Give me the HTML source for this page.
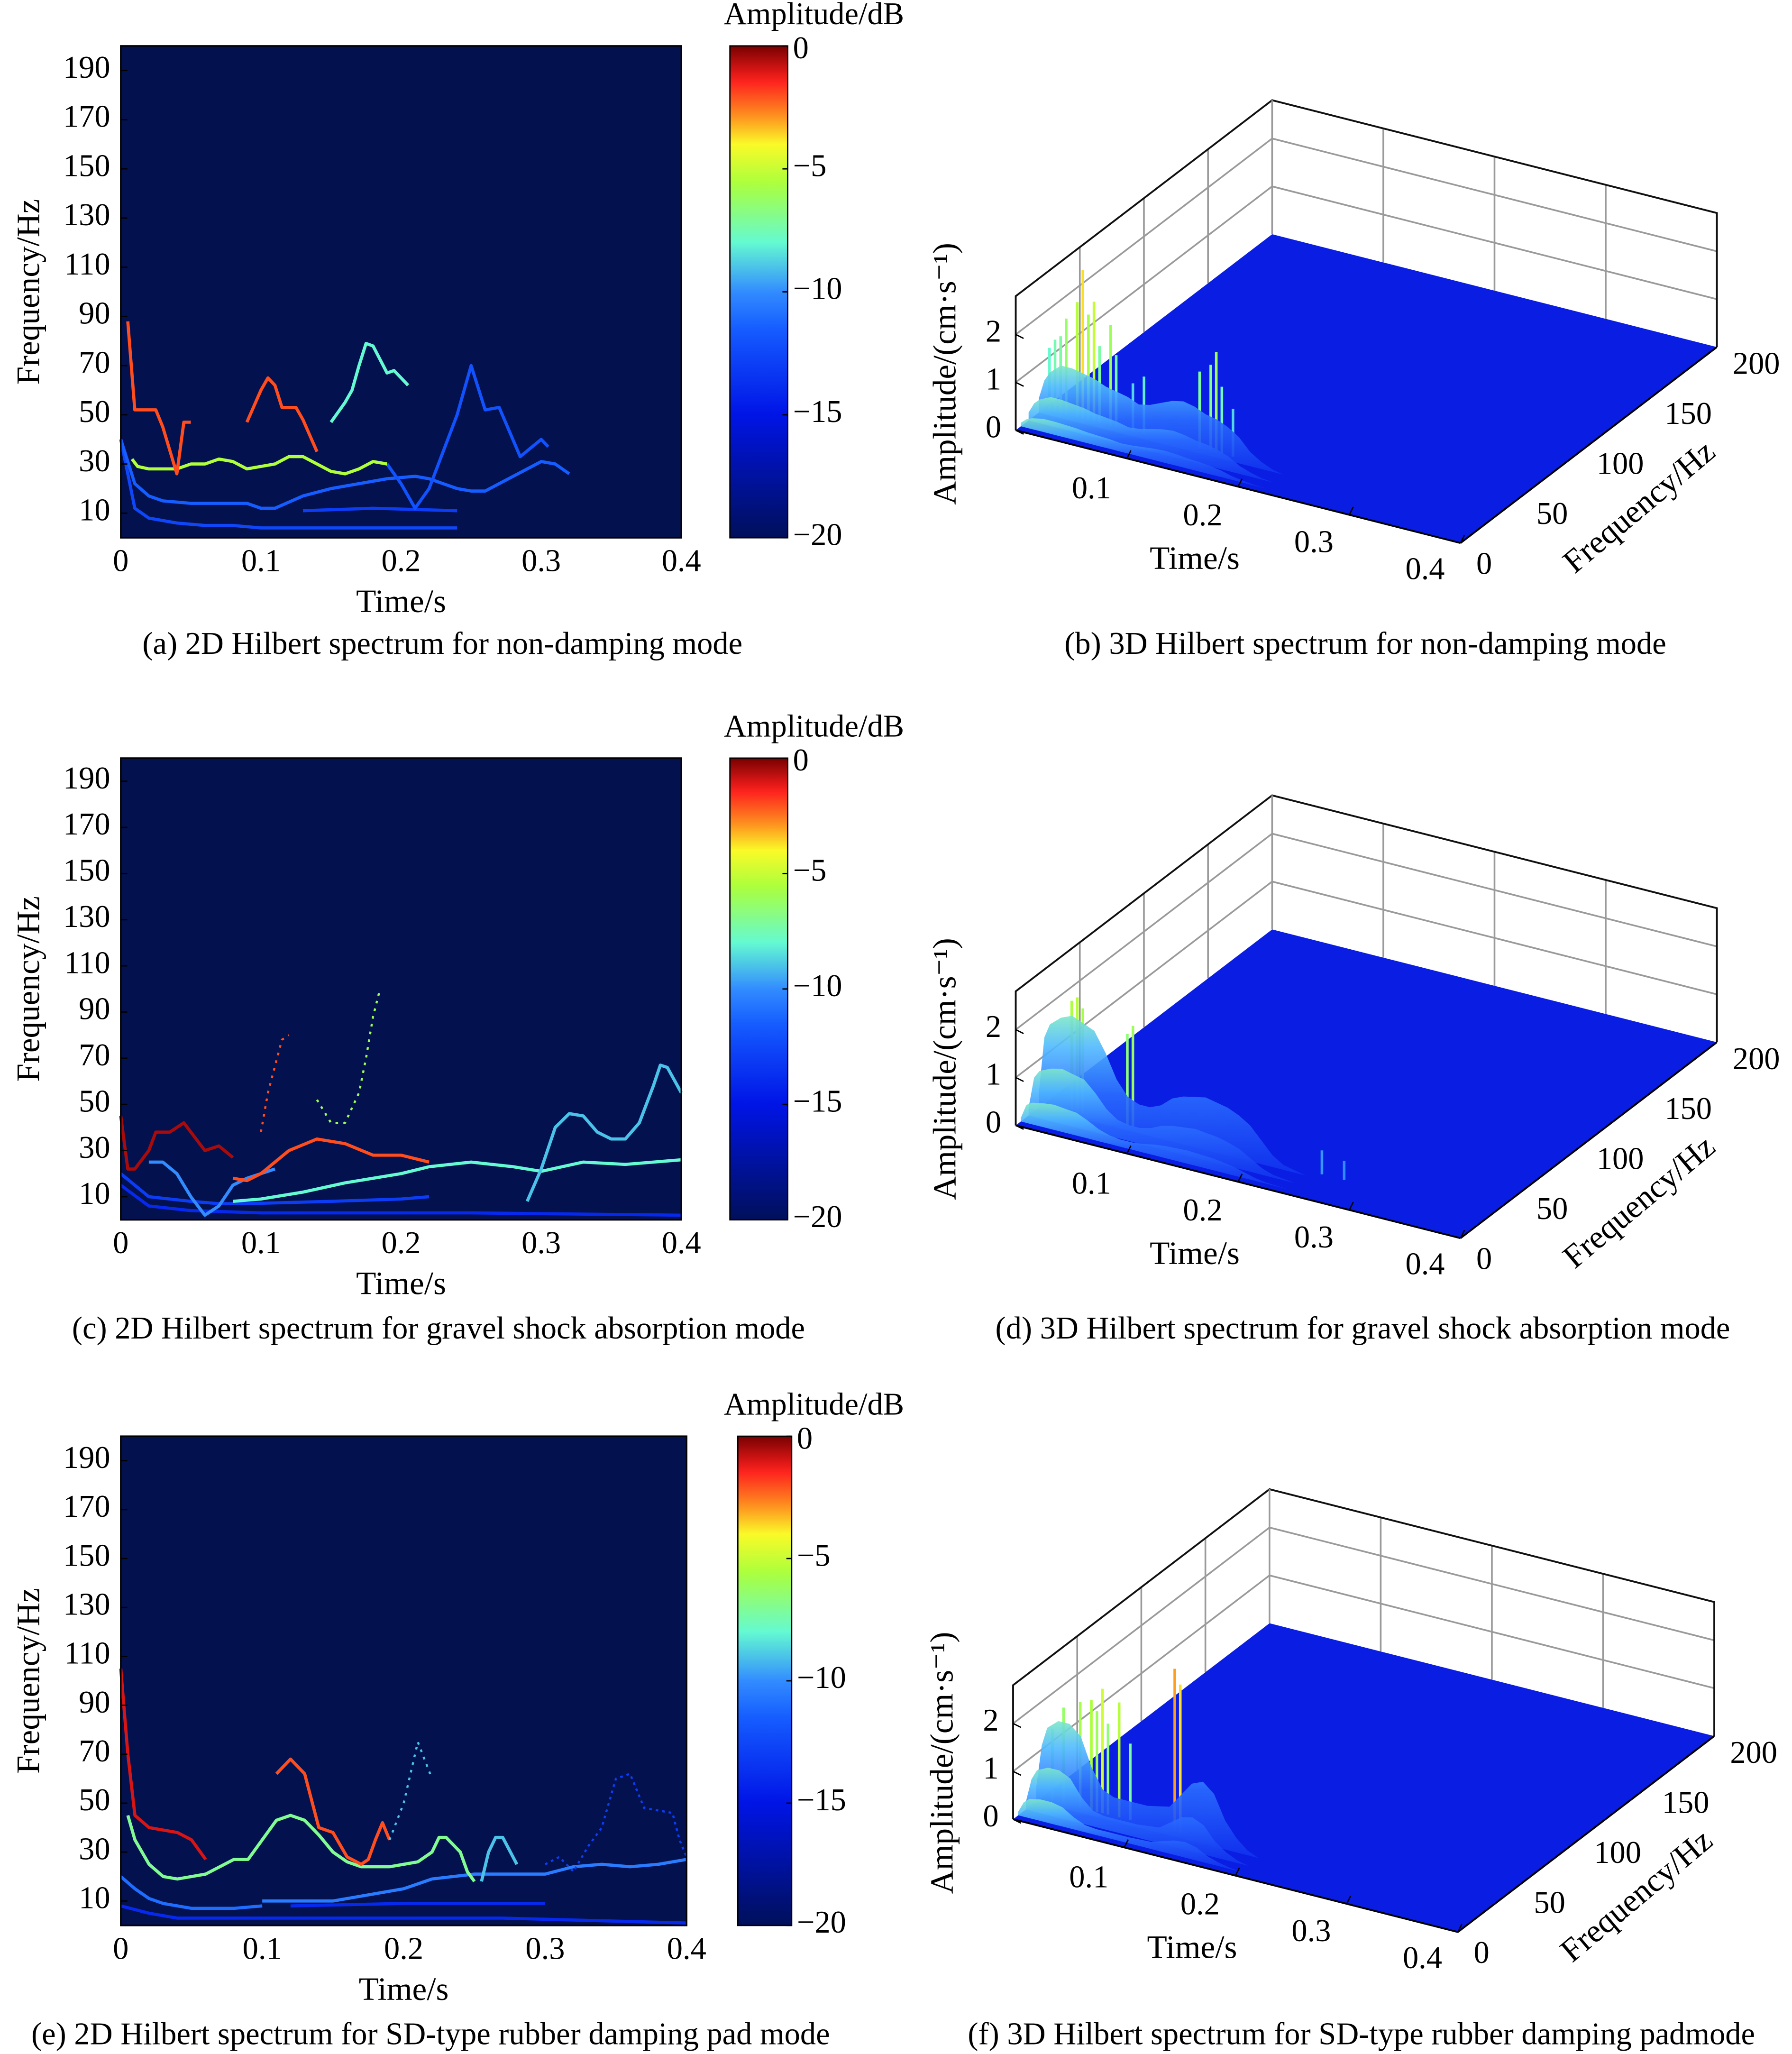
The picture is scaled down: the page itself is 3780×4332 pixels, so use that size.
<!DOCTYPE html>
<html><head><meta charset="utf-8">
<style>
html,body{margin:0;padding:0;background:#fff;}
svg{display:block;font-family:"Liberation Serif",serif;}
</style></head>
<body>
<svg id="fig" width="3780" height="4332" viewBox="0 0 1365 1566" preserveAspectRatio="none" xmlns="http://www.w3.org/2000/svg">
<rect width="1365" height="1566" fill="#fff"/>
</svg>
<script>
// ---------- axis data ----------
const freqTicks=[10,30,50,70,90,110,130,150,170,190];
const timeTicks=[0,0.1,0.2,0.3,0.4];
const cbTicks=[0,-5,-10,-15,-20];
const t3Ticks=[0.1,0.2,0.3,0.4];
const f3Ticks=[0,50,100,150,200];
const a3Ticks=[0,1,2];
// ---------- panel a ridges (time s, freq Hz), amplitude dB ----------
const aT1=[0.008,0.012,0.02,0.03,0.04,0.05,0.06,0.07,0.08,0.09,0.1,0.11,0.12,0.13,0.14,0.15,0.16,0.17,0.18,0.19];
const aF1=[32,29,28,28,28,30,30,32,31,28,29,30,33,33,30,27,26,28,31,30];
const aA1=-5.5;
const aT2=[0,0.01,0.02,0.03,0.05,0.08,0.09,0.1,0.11,0.13,0.15,0.17,0.19,0.21,0.22,0.24,0.25,0.26,0.28,0.3,0.31,0.32];
const aF2=[40,22,17,15,14,14,14,12,12,17,20,22,24,25,24,20,19,19,25,31,30,26];
const aA2=-11.5;
const aT3=[0,0.01,0.02,0.04,0.06,0.08,0.1,0.15,0.2,0.24];
const aF3=[40,12,8,6,5,5,4,4,4,4];
const aA3=-12.5;
const aT4=[0.005,0.01,0.02,0.025,0.03,0.04,0.045,0.05];
const aF4=[88,52,52,52,45,26,47,47];
const aA4=-2;
const aT5=[0.09,0.1,0.105,0.11,0.115,0.125,0.13,0.14];
const aF5=[47,60,65,62,53,53,48,35];
const aA5=-2;
const aT6=[0.15,0.16,0.165,0.17,0.175,0.18,0.19,0.195,0.205];
const aF6=[47,55,60,70,79,78,67,68,62];
const aA6=-8;
const aT7=[0.19,0.2,0.21,0.22,0.24,0.25,0.26,0.27,0.285,0.3,0.305];
const aF7=[30,22,12,20,50,70,52,53,33,40,37];
const aA7=-12;
const aT8=[0.13,0.18,0.24];
const aF8=[11,12,11];
const aA8=-13;
// ---------- panel c ridges ----------
const cT1=[0,0.005,0.01,0.02,0.025,0.035,0.045,0.05,0.06,0.07,0.08];
const cF1=[45,22,22,30,38,38,42,38,30,32,27];
const cA1=-0.5;
const cT2=[0.08,0.09,0.1,0.11,0.12,0.14,0.16,0.18,0.2,0.22];
const cF2=[18,17,20,25,30,35,33,28,28,25];
const cA2=-2;
const cT3=[0.08,0.1,0.13,0.16,0.2,0.22,0.25,0.28,0.3,0.33,0.36,0.4];
const cF3=[8,9,12,16,20,23,25,23,21,25,24,26];
const cA3=-8;
const cT4=[0.02,0.03,0.04,0.05,0.06,0.07,0.08,0.09,0.11];
const cF4=[25,25,20,10,2,6,15,18,22];
const cA4=-10;
const cT5=[0.29,0.3,0.31,0.32,0.33,0.34,0.35,0.36,0.37,0.38,0.385,0.39,0.4];
const cF5=[8,22,40,46,45,38,35,35,42,58,67,66,55];
const cA5=-9;
const cT6=[0,0.02,0.05,0.07,0.09,0.15,0.2,0.22];
const cF6=[20,10,8,7,7,8,9,10];
const cA6=-13;
const cT7=[0,0.02,0.05,0.1,0.25,0.4];
const cF7=[15,6,4,3,3,2];
const cA7=-14;
const cT8=[0.1,0.105,0.115,0.12];
const cF8=[38,55,78,80];
const cA8=-2;
const cT9=[0.14,0.15,0.16,0.17,0.175,0.18,0.185];
const cF9=[52,42,42,55,70,88,100];
const cA9=-6;
// ---------- panel e ridges ----------
const eT1=[0.005,0.01,0.02,0.03,0.04,0.05,0.06,0.07,0.08,0.09,0.1,0.11,0.12,0.13,0.14,0.15,0.16,0.17,0.19,0.2,0.21,0.22,0.225,0.23,0.24,0.245,0.25];
const eF1=[45,35,25,20,19,20,21,24,27,27,35,43,45,43,37,30,26,24,24,25,26,30,36,36,30,22,18];
const eA1=-7;
const eT2=[0.1,0.12,0.15,0.17,0.2,0.22,0.25,0.28,0.3,0.32,0.34,0.36,0.38,0.4];
const eF2=[10,10,10,12,15,19,21,21,21,24,25,24,25,27];
const eA2=-10.5;
const eT3=[0,0.01,0.02,0.03,0.05,0.08,0.1];
const eF3=[20,15,11,9,7,7,8];
const eA3=-11;
const eT4=[0,0.02,0.04,0.1,0.27,0.4];
const eF4=[8,5,3,3,3,1];
const eA4=-14;
const eT5=[0,0.005,0.01,0.02,0.04,0.05,0.06];
const eF5=[105,70,45,40,38,35,27];
const eA5=-1;
const eT6=[0.11,0.12,0.13,0.14,0.15,0.16,0.17,0.175,0.18,0.185,0.19];
const eF6=[62,68,62,40,38,28,25,27,35,42,35];
const eA6=-2;
const eT7=[0.3,0.31,0.32,0.33,0.34,0.35,0.36,0.37,0.38,0.39,0.395,0.4];
const eF7=[25,28,22,32,40,60,62,48,47,46,35,28];
const eA7=-13;
const eT8=[0.19,0.2,0.21,0.22];
const eF8=[35,50,75,60];
const eA8=-9;
const eT9=[0.255,0.26,0.265,0.27,0.28];
const eF9=[18,30,36,36,25];
const eA9=-9;
const eT10=[0.12,0.2,0.3];
const eF10=[8,9,9];
const eA10=-14;
// ---------- 3D: surface body profile and spikes (time s, amplitude cm/s) ----------
const bBodyT=[0,0.005,0.01,0.02,0.03,0.04,0.05,0.06,0.07,0.08,0.09,0.1,0.11,0.12,0.13,0.14,0.15,0.16,0.17,0.18,0.19,0.2,0.21,0.22];
const bBodyH=[0.3,0.7,0.9,1.1,1.1,1.05,1.0,0.9,0.85,0.8,0.7,0.75,0.85,0.95,1.0,0.95,0.85,0.8,0.7,0.55,0.3,0.15,0.05,0];
const bSpikeT=[0.005,0.01,0.015,0.02,0.03,0.035,0.04,0.045,0.05,0.06,0.065,0.08,0.09,0.14,0.15,0.155,0.16,0.17];
const bSpikeH=[1.3,1.5,1.6,2.0,2.4,3.1,2.2,2.5,1.6,2.1,1.5,1.0,1.2,1.6,1.8,2.1,1.4,1.0];
const dBodyT=[0,0.005,0.01,0.02,0.03,0.04,0.05,0.06,0.07,0.08,0.09,0.1,0.11,0.12,0.13,0.14,0.15,0.16,0.17,0.18,0.19,0.2,0.21,0.22,0.24];
const dBodyH=[0.3,1.5,1.8,2.0,2.1,2.0,1.9,1.5,1.0,0.7,0.6,0.6,0.7,0.9,1.0,1.05,1.1,1.05,1.0,0.9,0.75,0.5,0.25,0.1,0];
const dSpikeT=[0.025,0.03,0.035,0.075,0.08,0.25,0.27];
const dSpikeH=[2.3,2.4,2.2,1.9,2.1,0.5,0.4];
const fBodyT=[0,0.005,0.01,0.02,0.03,0.04,0.05,0.06,0.07,0.08,0.1,0.12,0.13,0.14,0.15,0.16,0.17,0.18,0.19,0.2];
const fBodyH=[0.3,1.2,1.6,1.8,1.8,1.6,1.0,0.6,0.5,0.5,0.5,0.6,0.9,1.2,1.3,1.1,0.6,0.3,0.1,0];
const fSpikeT=[0.01,0.02,0.035,0.045,0.05,0.055,0.06,0.07,0.08,0.12,0.125];
const fSpikeH=[1.5,2.0,2.2,2.3,2.1,2.6,1.9,2.4,1.6,3.4,3.1];
// ---------- helpers ----------
const NS='http://www.w3.org/2000/svg';
const svg=document.getElementById('fig');
function mk(tag,attrs,parent){const e=document.createElementNS(NS,tag);for(const k in attrs)e.setAttribute(k,attrs[k]);(parent||svg).appendChild(e);return e;}
function txt(x,y,s,size,anchor,rot,parent){const e=mk('text',{x:0,y:0,'font-size':size,'text-anchor':anchor||'middle','dominant-baseline':'middle',fill:'#000',transform:'translate('+x+' '+y+') rotate('+(rot||0)+')'},parent);e.textContent=s;return e;}
const cmapPos=[0,0.25,0.42,0.5,0.6,0.72,0.8,0.86,0.93,1];
const cmapCol=[[0,15,90],[0,20,230],[20,90,255],[50,140,255],[100,250,210],[170,255,60],[250,250,40],[255,140,30],[255,30,30],[120,0,0]];
function cmap(v){v=Math.max(0,Math.min(1,v));for(let i=1;i<cmapPos.length;i++){if(v<=cmapPos[i]){const u=(v-cmapPos[i-1])/(cmapPos[i]-cmapPos[i-1]);const a=cmapCol[i-1],b=cmapCol[i];return 'rgb('+a.map((c,k)=>Math.round(c+(b[k]-c)*u)).join(',')+')';}}return 'rgb(120,0,0)';}
function dbCol(db){return cmap((db+20)/20);}

function panel2D(id,x0,x1,y0,y1,cbx0,cbx1,series,caption,capX,capY){
  const g=mk('g',{});
  
  
  const xs=t=>x0+t/0.4*(x1-x0);
  const ys=f=>y1-f/200*(y1-y0);
  const bg=mk('rect',{x:x0,y:y0,width:x1-x0,height:y1-y0,fill:'#03114f'},g);
  
  
  series.forEach(s=>{
    const p=mk('polyline',{points:s[0].map((t,k)=>xs(t)+','+ys(s[1][k])).join(' '),fill:'none',stroke:dbCol(s[2]),'stroke-width':s[3]?1.6:2.4,'stroke-linejoin':'round','stroke-dasharray':s[3]||'none'},g);
    
    
  });
  mk('rect',{x:x0,y:y0,width:x1-x0,height:y1-y0,fill:'none',stroke:'#000','stroke-width':1.2},g);
  freqTicks.forEach(f=>{mk('line',{x1:x0,x2:x0+5,y1:ys(f),y2:ys(f),stroke:'#000','stroke-width':1},g);const t=txt(x0-8,ys(f),String(f),24,'end',0,g);});
  timeTicks.forEach(tt=>{const t=txt(xs(tt),y1+20,String(tt),24,'middle',0,g);});
  const yt=txt(24,(y0+y1)/2,'Frequency/Hz',25,'middle',-90,g);
  const xt=txt((x0+x1)/2,y1+51,'Time/s',25,'middle',0,g);
  const defs=mk('defs',{},g);const lg=mk('linearGradient',{id:'grad'+id,x1:0,y1:1,x2:0,y2:0},defs);
  for(let i=0;i<=40;i++)mk('stop',{offset:i/40,'stop-color':cmap(i/40)},lg);
  const cb=mk('rect',{x:cbx0,y:y0,width:cbx1-cbx0,height:y1-y0,fill:'url(#grad'+id+')',stroke:'#000','stroke-width':1},g);
  
  cbTicks.forEach(v=>{const y=y0+(-v)/20*(y1-y0);mk('line',{x1:cbx1-4,x2:cbx1,y1:y,y2:y,stroke:'#000'},g);const t=txt(cbx1+4,y+(v===0?4:0),v===0?'0':'\u2212'+(-v),24,'start',0,g);});
  const ct=txt(620,y0-22,'Amplitude/dB',24,'middle',0,g);
  const cap=txt(capX,capY,caption,24,'middle',0,g);
}

function panel3D(id,dx,dy,bodyT,bodyH,spT,spH,caption,capX,capY){
  const g=mk('g',{});
  
  
  const A=[773.7+dx,328+dy],B=[1112.5+dx,414+dy],D=[969+dx,178.6+dy];
  const U=36.5;
  const P=(t,f,h)=>[A[0]+t/0.4*(B[0]-A[0])+f/200*(D[0]-A[0]), A[1]+t/0.4*(B[1]-A[1])+f/200*(D[1]-A[1])-h*U];
  const pt=p=>p[0].toFixed(1)+','+p[1].toFixed(1);
  const gc='#9a9a9a';
  const C=P(0.4,200,0);
  const topH=2.8;
  [1,2].forEach(k=>{mk('polyline',{points:[pt(P(0,0,k)),pt(P(0,200,k)),pt(P(0.4,200,k))].join(' '),fill:'none',stroke:gc,'stroke-width':1.3},g);});
  [50,100,150].forEach(f=>{const a=P(0,f,0),b=P(0,f,topH);mk('line',{x1:a[0],y1:a[1],x2:b[0],y2:b[1],stroke:gc,'stroke-width':1.3},g);});
  [0.1,0.2,0.3].forEach(t=>{const a=P(t,200,0),b=P(t,200,topH);mk('line',{x1:a[0],y1:a[1],x2:b[0],y2:b[1],stroke:gc,'stroke-width':1.3},g);});
  mk('polyline',{points:[pt(A),pt(P(0,0,topH)),pt(P(0,200,topH)),pt(P(0.4,200,topH)),pt(C)].join(' '),fill:'none',stroke:'#111','stroke-width':1.4},g);
  mk('line',{x1:D[0],y1:D[1],x2:D[0],y2:D[1]-topH*U,stroke:gc,'stroke-width':1.3},g);
  const floor=mk('polygon',{points:[pt(A),pt(B),pt(C),pt(D)].join(' '),fill:'#0a1ee3'},g);
  
  const defs=mk('defs',{},g);
  const lg=mk('linearGradient',{id:'body'+id,x1:0,y1:1,x2:0,y2:0},defs);
  mk('stop',{offset:0,'stop-color':'#1030ee'},lg);
  mk('stop',{offset:0.5,'stop-color':'#2a6cff'},lg);
  mk('stop',{offset:0.8,'stop-color':'#4fb8ff'},lg);
  mk('stop',{offset:1,'stop-color':'#7de8c8'},lg);
  spT.forEach((t,i)=>{
    const b=P(t,22,0),tp=P(t,22,spH[i]);
    const l=mk('line',{x1:b[0],y1:b[1],x2:tp[0],y2:tp[1],stroke:cmap(0.45+spH[i]/3.4*0.4),'stroke-width':2},g);
    
  });
  [[18,1],[10,0.55],[4,0.25]].forEach(sl=>{
    const top=bodyT.map((t,i)=>pt(P(t,sl[0],bodyH[i]*sl[1])));
    const bot=bodyT.slice().reverse().map(t=>pt(P(t,sl[0],0)));
    const poly=mk('polygon',{points:top.concat(bot).join(' '),fill:'url(#body'+id+')',opacity:0.9},g);
    
  });
  mk('line',{x1:A[0],y1:A[1],x2:B[0],y2:B[1],stroke:'#000','stroke-width':1.4},g);
  mk('line',{x1:B[0],y1:B[1],x2:C[0],y2:C[1],stroke:'#000','stroke-width':1.4},g);
  t3Ticks.forEach(t=>{const p=P(t,0,0);mk('line',{x1:p[0],y1:p[1],x2:p[0]+3,y2:p[1]-6,stroke:'#000'},g);const e=txt(p[0]-27,p[1]+25-(t-0.1)*10,String(t),24,'middle',0,g);});
  f3Ticks.forEach(f=>{const p=P(0.4,f,0);const e=txt(p[0]+18+f*0.06,p[1]+18-f*0.015,String(f),24,'middle',0,g);});
  a3Ticks.forEach(a=>{const p=P(0,0,a);mk('line',{x1:p[0],y1:p[1],x2:p[0]+6,y2:p[1]+3,stroke:'#000'},g);const e=txt(p[0]-17,p[1],String(a),24,'middle',0,g);});
  const tt=txt(910+dx,428+dy,'Time/s',25,'middle',0,g);
  const ft=txt(1250+dx,388+dy,'Frequency/Hz',25,'middle',-40,g);
  const at=txt(722+dx,285+dy,'Amplitude/(cm\u00b7s\u207b\u00b9)',25,'middle',-90,g);
  const cap=txt(capX,capY,caption,24,'middle',0,g);
}

panel2D('a',92,519,35,410,556,600,[
 [aT3,aF3,aA3],[aT8,aF8,aA8],[aT2,aF2,aA2],[aT7,aF7,aA7],[aT1,aF1,aA1],[aT4,aF4,aA4],[aT5,aF5,aA5],[aT6,aF6,aA6]
],'(a) 2D Hilbert spectrum for non-damping mode',337,493);
panel2D('c',92,519,578,930,556,600,[
 [cT7,cF7,cA7],[cT6,cF6,cA6],[cT3,cF3,cA3],[cT4,cF4,cA4],[cT1,cF1,cA1],[cT2,cF2,cA2],[cT5,cF5,cA5],[cT8,cF8,cA8,'2 4'],[cT9,cF9,cA9,'2 4']
],'(c) 2D Hilbert spectrum for gravel shock absorption mode',334,1015);
panel2D('e',92,523,1095,1468,562,603,[
 [eT4,eF4,eA4],[eT10,eF10,eA10],[eT3,eF3,eA3],[eT2,eF2,eA2],[eT1,eF1,eA1],[eT9,eF9,eA9],[eT5,eF5,eA5],[eT6,eF6,eA6],[eT7,eF7,eA7,'2 3'],[eT8,eF8,eA8,'2 4']
],'(e) 2D Hilbert spectrum for SD-type rubber damping pad mode',328,1553);
panel3D('b',0,0,bBodyT,bBodyH,bSpikeT,bSpikeH,'(b) 3D Hilbert spectrum for non-damping mode',1040,493);
panel3D('d',0,530,dBodyT,dBodyH,dSpikeT,dSpikeH,'(d) 3D Hilbert spectrum for gravel shock absorption mode',1038,1015);
panel3D('f',-2,1059,fBodyT,fBodyH,fSpikeT,fSpikeH,'(f) 3D Hilbert spectrum for SD-type rubber damping padmode',1037,1553);
</script>
</body></html>
